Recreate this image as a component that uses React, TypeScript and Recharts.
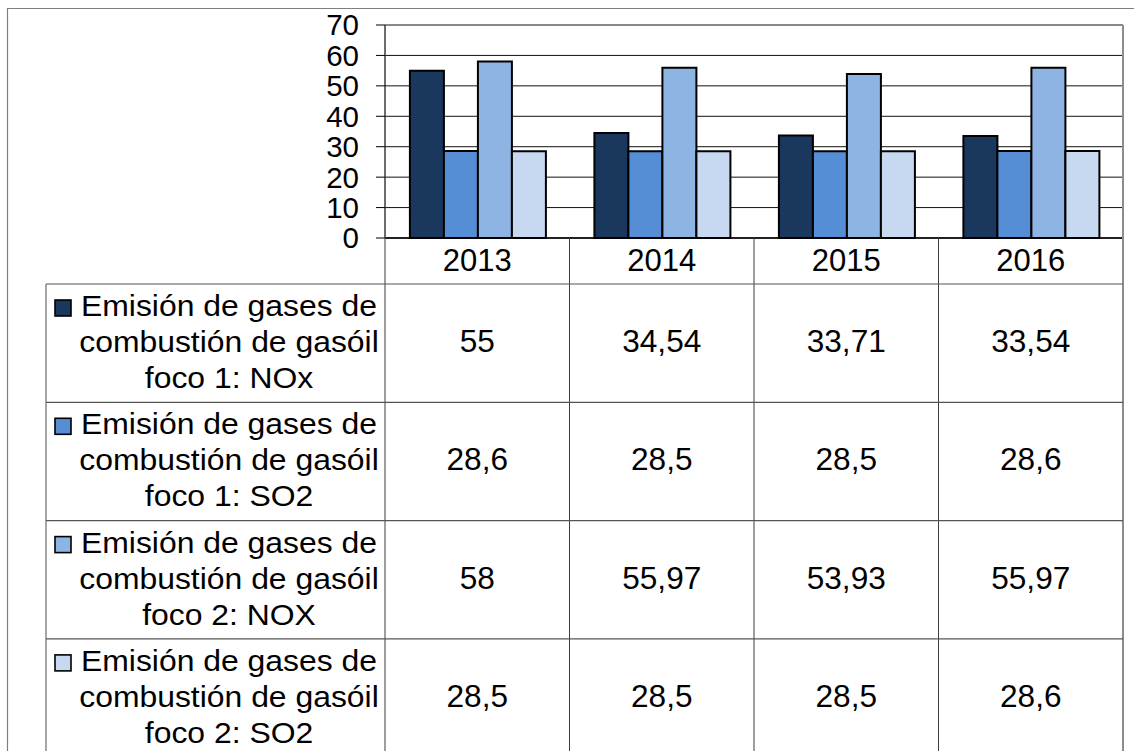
import React from 'react';
import { BarChart, Bar, XAxis, YAxis, CartesianGrid } from 'recharts';

const years = ['2013', '2014', '2015', '2016'];
const foco1NOx = [55, 34.54, 33.71, 33.54];
const foco1SO2 = [28.6, 28.5, 28.5, 28.6];
const foco2NOx = [58, 55.97, 53.93, 55.97];
const foco2SO2 = [28.5, 28.5, 28.5, 28.6];
const yTicks = [0, 10, 20, 30, 40, 50, 60, 70];

const seriesKeys = ['f1nox', 'f1so2', 'f2nox', 'f2so2'];
const seriesValues = [foco1NOx, foco1SO2, foco2NOx, foco2SO2];
const seriesLabels = [
  ['Emisión de gases de', 'combustión de gasóil', 'foco 1: NOx'],
  ['Emisión de gases de', 'combustión de gasóil', 'foco 1: SO2'],
  ['Emisión de gases de', 'combustión de gasóil', 'foco 2: NOX'],
  ['Emisión de gases de', 'combustión de gasóil', 'foco 2: SO2'],
];
const seriesColors = ['#1A375E', '#558ED5', '#8EB4E3', '#C6D9F1'];

const data = years.map((y, i) => {
  const row: Record<string, string | number> = { year: y };
  seriesKeys.forEach((k, s) => {
    row[k] = seriesValues[s][i];
  });
  return row;
});

const W = 1134;
const H = 751;
const plotLeft = 385;
const plotRight = 1123;
const plotTop = 25;
const plotBottom = 238;
const headerH = 46;
const rowH = 118.3;
const labelLeft = 46;
const labelCenter = 229;
const FONT = '"Liberation Sans", Arial, sans-serif';
const lineColor = '#3c3c3c';

const fmt = (v: number) => String(v).replace('.', ',');

function TableOverlay() {
  const colW = (plotRight - plotLeft) / years.length;
  const tableTop = plotBottom + headerH;
  const els: React.ReactNode[] = [];
  els.push(<path key="frame" d={`M7.5,${H} V8.5 H${W}`} fill="none" stroke="#7f7f7f" strokeWidth={1.2} />);
  for (let i = 0; i <= years.length; i++) {
    const x = plotLeft + i * colW;
    els.push(<line key={`v${i}`} x1={x} x2={x} y1={plotBottom} y2={H} stroke={i === years.length ? '#8c8c8c' : lineColor} strokeWidth={i === years.length ? 2 : 1} />);
  }
  els.push(<line key="vl" x1={labelLeft} x2={labelLeft} y1={tableTop} y2={H} stroke="#6a6a6a" strokeWidth={1.2} />);
  for (let r = 0; r < seriesKeys.length; r++) {
    const y = tableTop + r * rowH;
    els.push(<line key={`h${r}`} x1={labelLeft} x2={plotRight} y1={y} y2={y} stroke="#555" strokeWidth={1.2} />);
  }
  seriesKeys.forEach((k, r) => {
    const top = tableTop + r * rowH;
    els.push(
      <rect key={`sq${r}`} x={55} y={top + 16} width={16} height={16} fill={seriesColors[r]} stroke="#000" strokeWidth={1.6} />
    );
    seriesLabels[r].forEach((ln, li) => {
      els.push(
        <text key={`l${r}-${li}`} transform={`translate(${labelCenter},${top + 32 + li * 36}) scale(1.1,1)`} textAnchor="middle" fontSize={29} fontFamily={FONT} fill="#000">{ln}</text>
      );
    });
    seriesValues[r].forEach((v, c) => {
      const cx = plotLeft + (c + 0.5) * colW;
      els.push(
        <text key={`v${r}-${c}`} transform={`translate(${cx},${top + 68}) scale(1.02,1)`} textAnchor="middle" fontSize={31} fontFamily={FONT} fill="#000">{fmt(v)}</text>
      );
    });
  });
  return (
    <svg width={W} height={H} style={{ position: 'absolute', left: 0, top: 0, pointerEvents: 'none' }}>
      {els}
    </svg>
  );
}

export default function App() {
  return (
    <div style={{ position: 'absolute', left: 0, top: 0, width: W, height: H, background: '#fff', overflow: 'hidden' }}>
      <BarChart
        width={W}
        height={H}
        data={data}
        margin={{ top: plotTop, right: 0, bottom: H - plotBottom - headerH, left: 0 }}
        barCategoryGap="13.5%"
        barGap={0}
      >
        <CartesianGrid vertical={false} stroke="#111" strokeWidth={1} yAxisId="left" />
        <XAxis
          dataKey="year"
          height={headerH}
          tickLine={false}
          tickSize={0}
          tickMargin={11}
          axisLine={{ stroke: '#000', strokeWidth: 1.5 }}
          tick={{ fontSize: 31, fill: '#000', fontFamily: FONT }}
          interval={0}
        />
        <YAxis
          yAxisId="left"
          width={plotLeft}
          domain={[0, 70]}
          ticks={yTicks}
          interval={0}
          tickSize={9}
          tickMargin={17}
          tickLine={{ stroke: '#000' }}
          axisLine={{ stroke: lineColor, strokeWidth: 1.5 }}
          tick={{ fontSize: 29.5, fill: '#000', fontFamily: FONT }}
        />
        <YAxis
          yAxisId="right"
          orientation="right"
          width={W - plotRight}
          domain={[0, 70]}
          tick={false}
          tickLine={false}
          axisLine={{ stroke: '#8c8c8c', strokeWidth: 2 }}
        />
        {seriesKeys.map((k, i) => (
          <Bar key={k} yAxisId="left" dataKey={k} fill={seriesColors[i]} stroke="#000" strokeWidth={2} isAnimationActive={false} />
        ))}
      </BarChart>
      <TableOverlay />
    </div>
  );
}
